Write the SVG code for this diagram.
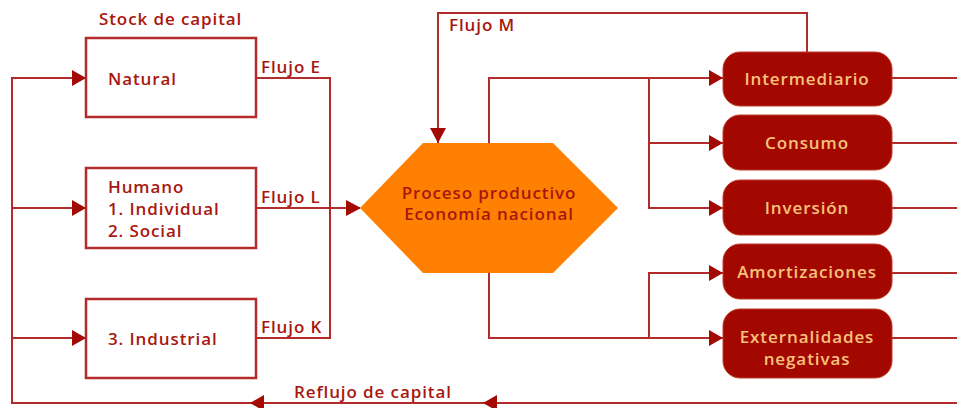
<svg xmlns="http://www.w3.org/2000/svg" width="957" height="408" viewBox="0 0 957 408">
<defs>
<style>
.ln{fill:none;stroke:#b42b2b;stroke-width:2}
.box{fill:#fff;stroke:#b42b2b;stroke-width:2.5}
.t{font-family:"Open Sans","Liberation Sans",sans-serif;font-size:17px;font-weight:600;letter-spacing:0.9px;fill:#a8170f}
.w{font-family:"Open Sans","Liberation Sans",sans-serif;font-size:17px;font-weight:600;letter-spacing:0.9px;fill:#f6c27c;text-anchor:middle}
.rb{fill:#a30800;stroke:#c03a2a;stroke-width:1}
.ah{fill:#a30a04}
</style>
</defs>
<rect width="957" height="408" fill="#fff"/>
<g id="connectors">
<path class="ln" d="M86,78 H12 V403 H957"/>
<path class="ln" d="M12,208 H86 M12,338 H86"/>
<path class="ln" d="M256,78 H330 V338 H256 M256,208 H360"/>
<path class="ln" d="M807,52 V13 H438 V143"/>
<path class="ln" d="M489,143 V78 H723 M649,78 V208 H723 M649,143 H723"/>
<path class="ln" d="M489,273 V338 H723 M649,338 V273 H723"/>
<path class="ln" d="M892,78 H957 M892,143 H957 M892,208 H957 M892,273 H957 M892,338 H957"/>
<g class="ah">
<polygon points="86,78 72,70 72,86"/>
<polygon points="86,208 72,200 72,216"/>
<polygon points="86,338 72,330 72,346"/>
<polygon points="361,208 346,200 346,216"/>
<polygon points="438,143 430,128 446,128"/>
<polygon points="723,78 709,70 709,86"/>
<polygon points="723,143 709,135 709,151"/>
<polygon points="723,208 709,200 709,216"/>
<polygon points="723,273 709,265 709,281"/>
<polygon points="723,338 709,330 709,346"/>
<polygon points="250,403 264,395 264,411"/>
<polygon points="483,403 497,395 497,411"/>
</g>
</g>
<text class="t" x="99" y="25">Stock de capital</text>
<text class="t" x="261" y="73">Flujo E</text>
<text class="t" x="261" y="203">Flujo L</text>
<text class="t" x="261" y="333">Flujo K</text>
<text class="t" x="449" y="31">Flujo M</text>
<text class="t" x="294" y="398">Reflujo de capital</text>
<g id="natural">
<rect class="box" x="86" y="38" width="170" height="79"/>
<text class="t" x="108" y="85">Natural</text>
</g>
<g id="humano">
<rect class="box" x="86" y="168" width="170" height="80"/>
<text class="t" x="108" y="193">Humano</text>
<text class="t" x="108" y="215">1. Individual</text>
<text class="t" x="108" y="237">2. Social</text>
</g>
<g id="industrial">
<rect class="box" x="86" y="299" width="170" height="79"/>
<text class="t" x="108" y="345">3. Industrial</text>
</g>
<g id="proceso">
<polygon points="423,143 553,143 618,208 553,273 423,273 360,208" fill="#ff7f00"/>
<text class="t" x="489" y="199" text-anchor="middle">Proceso productivo</text>
<text class="t" x="489" y="220" text-anchor="middle">Economía nacional</text>
</g>
<g id="intermediario">
<rect class="rb" x="723" y="52" width="169" height="54" rx="17"/>
<text class="w" x="807" y="85">Intermediario</text>
</g>
<g id="consumo">
<rect class="rb" x="723" y="115" width="169" height="55" rx="17"/>
<text class="w" x="807" y="149">Consumo</text>
</g>
<g id="inversion">
<rect class="rb" x="723" y="180" width="169" height="55" rx="17"/>
<text class="w" x="807" y="214">Inversión</text>
</g>
<g id="amortizaciones">
<rect class="rb" x="723" y="244" width="169" height="55" rx="17"/>
<text class="w" x="807" y="278">Amortizaciones</text>
</g>
<g id="externalidades">
<rect class="rb" x="723" y="309" width="169" height="69" rx="17"/>
<text class="w" x="807" y="343">Externalidades</text>
<text class="w" x="807" y="365">negativas</text>
</g>
</svg>
